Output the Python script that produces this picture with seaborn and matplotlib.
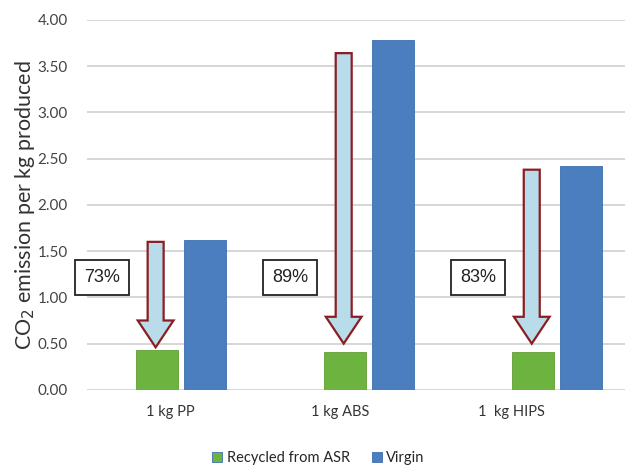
import matplotlib
matplotlib.use("Agg")
import matplotlib.pyplot as plt
import matplotlib.transforms as mtransforms
import seaborn as sns
import pandas as pd
from matplotlib.patches import FancyArrow

# data
categories = ["1 kg PP", "1 kg ABS", "1  kg HIPS"]
recycled = [0.43, 0.41, 0.41]
virgin = [1.62, 3.78, 2.42]
reduction = ["73%", "89%", "83%"]
arrow_top = [1.60, 3.64, 2.38]
arrow_tip = [0.46, 0.50, 0.50]

df = pd.DataFrame({
    "cat": categories * 2,
    "value": recycled + virgin,
    "series": ["Recycled from ASR"] * 3 + ["Virgin"] * 3,
})

sns.set_style("white")
plt.rcParams["font.family"] = ["Lato", "DejaVu Sans"]

fig = plt.figure(figsize=(6.35, 4.72), dpi=100)
ax = fig.add_axes([0.137, 0.174, 0.847, 0.784])

sns.barplot(data=df, x="cat", y="value", hue="series", ax=ax,
            palette=["#6cb33f", "#4a7ebf"], saturation=1, width=0.51, gap=0.12,
            edgecolor="#3d6fae", linewidth=0.6, legend=True)
for bar in ax.patches[:3]:
    bar.set_edgecolor("#5f9f33")

ax.set_ylim(0, 4)
ax.set_xlim(-0.5, 2.36)
ax.set_yticks([i * 0.5 for i in range(9)])
ax.set_yticklabels([f"{i * 0.5:.2f}" for i in range(9)], color="#444444", fontsize=11)
ax.tick_params(axis="x", labelsize=10.5, colors="#333333", length=0, pad=11)
ax.tick_params(axis="y", length=0, pad=14)
ax.yaxis.grid(True, color="#d0d0d0", linewidth=1.2)
ax.set_axisbelow(True)
for s in ax.spines.values():
    s.set_visible(False)
ax.set_xlabel("")
ax.set_ylabel(r"CO$_2$ emission per kg produced", fontsize=15.5, color="#333333",
              labelpad=0)

# the category labels sit a little left of their bars in the original
for lab, dx in zip(ax.get_xticklabels(), [-11, -29, -46]):
    lab.set_transform(lab.get_transform() +
                      mtransforms.ScaledTranslation(dx / 100, 0, fig.dpi_scale_trans))

# reduction arrows and labels
for i in range(3):
    xc = i - 0.135
    arr = FancyArrow(xc, arrow_top[i], 0, arrow_tip[i] - arrow_top[i],
                     width=0.085, head_width=0.19, head_length=0.29,
                     length_includes_head=True, facecolor="#b9dcea",
                     edgecolor="#8a1e22", linewidth=1.6, zorder=5)
    ax.add_patch(arr)
    ax.text(i - 0.42, 1.21, reduction[i], fontsize=13, ha="center", va="center",
            family=["Liberation Sans", "DejaVu Sans"], color="#222222", zorder=6,
            bbox=dict(boxstyle="square,pad=0.5", facecolor="white",
                      edgecolor="#222222", linewidth=1.3))

leg = ax.legend(loc="upper center", bbox_to_anchor=(0.43, -0.13), ncol=2,
                frameon=False, fontsize=10.5, handlelength=0.7, handleheight=0.7,
                handletextpad=0.3, columnspacing=1.5)

fig.savefig("out.png", dpi=100)
